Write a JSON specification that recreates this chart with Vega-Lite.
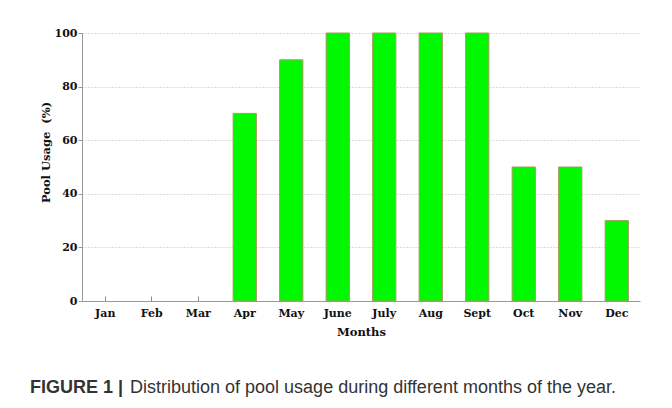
{
  "$schema": "https://vega.github.io/schema/vega-lite/v6.json",
  "width": 558,
  "height": 268,
  "autosize": {"type": "none"},
  "padding": {"left": 82, "top": 33, "right": 32, "bottom": 107},
  "background": "white",
  "data": {
    "values": [
      {"month": "Jan", "usage": 0},
      {"month": "Feb", "usage": 0},
      {"month": "Mar", "usage": 0},
      {"month": "Apr", "usage": 70},
      {"month": "May", "usage": 90},
      {"month": "June", "usage": 100},
      {"month": "July", "usage": 100},
      {"month": "Aug", "usage": 100},
      {"month": "Sept", "usage": 100},
      {"month": "Oct", "usage": 50},
      {"month": "Nov", "usage": 50},
      {"month": "Dec", "usage": 30}
    ]
  },
  "mark": {"type": "bar", "fill": "#00f800", "stroke": "#a89a5a", "strokeWidth": 1},
  "encoding": {
    "strokeOpacity": {"condition": {"test": "datum.usage > 0", "value": 1}, "value": 0},
    "x": {
      "field": "month",
      "type": "nominal",
      "sort": null,
      "scale": {"paddingInner": 0.5, "paddingOuter": 0.25},
      "axis": {
        "title": "Months",
        "labelAngle": 0,
        "tickSize": -5,
        "tickColor": "#888",
        "domainColor": "#999",
        "labelPadding": 11,
        "labelFont": "DejaVu Serif",
        "labelFontWeight": "bold",
        "labelFontSize": 11,
        "labelColor": "#111",
        "titleFont": "DejaVu Serif",
        "titleFontWeight": "bold",
        "titleFontSize": 11.5,
        "titleColor": "#111",
        "titlePadding": 8,
        "zindex": 0
      }
    },
    "y": {
      "field": "usage",
      "type": "quantitative",
      "scale": {"domain": [0, 100], "nice": false},
      "axis": {
        "title": "Pool Usage\u00a0 (%)",
        "values": [0, 20, 40, 60, 80, 100],
        "tickSize": 4,
        "tickColor": "#999",
        "domainColor": "#999",
        "labelPadding": 1,
        "labelFont": "DejaVu Serif",
        "labelFontWeight": "bold",
        "labelFontSize": 11,
        "labelColor": "#111",
        "grid": true,
        "gridColor": "#bbbbbb",
        "gridDash": [1, 2],
        "titleFont": "DejaVu Serif",
        "titleFontWeight": "bold",
        "titleFontSize": 11.5,
        "titleColor": "#111",
        "titleX": -36,
        "titleY": 119,
        "titleAlign": "center",
        "titleBaseline": "middle",
        "zindex": 0
      }
    }
  },
  "title": {
    "text": "FIGURE 1 |",
    "subtitle": "\u200b\u00a0\u00a0\u00a0\u00a0\u00a0\u00a0\u00a0\u00a0\u00a0\u00a0\u00a0\u00a0\u00a0\u00a0\u00a0\u00a0\u00a0\u00a0\u00a0\u00a0Distribution of pool usage during different months of the year.",
    "orient": "bottom",
    "anchor": "start",
    "frame": "group",
    "dx": -52,
    "dy": 41,
    "offset": 0,
    "font": "Liberation Sans",
    "fontSize": 18,
    "fontWeight": "bold",
    "color": "#333",
    "subtitleFont": "Liberation Sans",
    "subtitleFontSize": 18,
    "subtitleFontWeight": "normal",
    "subtitleColor": "#333",
    "subtitlePadding": -18
  },
  "config": {"view": {"stroke": null}}
}
